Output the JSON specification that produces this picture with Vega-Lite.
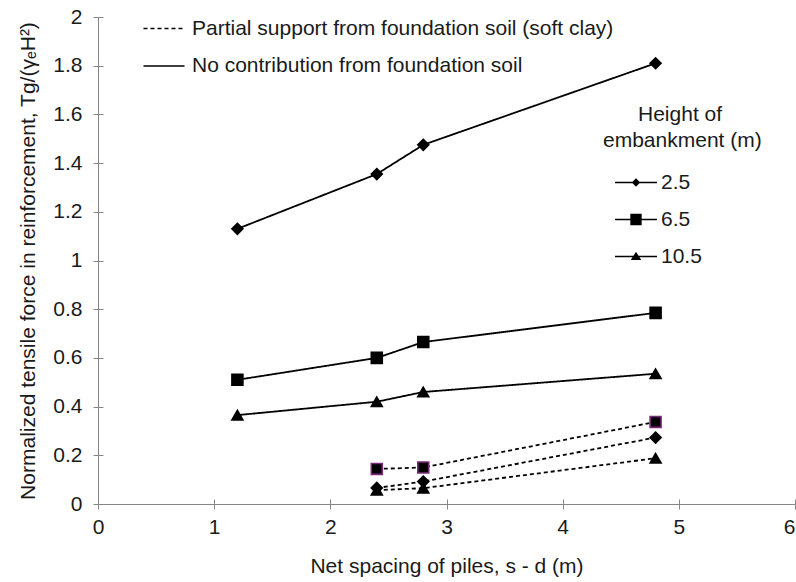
{
  "$schema": "https://vega.github.io/schema/vega-lite/v6.json",
  "width": 697,
  "height": 487,
  "autosize": "none",
  "padding": {"left": 98, "top": 17, "right": 1, "bottom": 78},
  "config": {
    "font": "Liberation Sans",
    "view": {"stroke": null},
    "axis": {
      "grid": false,
      "domainColor": "#868686",
      "tickColor": "#868686",
      "labelColor": "#1a1a1a",
      "titleColor": "#1a1a1a",
      "labelFontSize": 21,
      "titleFontSize": 21,
      "titleFontWeight": "normal",
      "labelFlush": false,
      "labelOverlap": false
    },
    "legend": {"padding": 0, "labelColor": "#1a1a1a", "titleColor": "#1a1a1a", "labelLimit": 0, "titleLimit": 0}
  },
  "data": {
    "values": [
      {"support": "No contribution from foundation soil", "H": 2.5, "s": 1.2, "T": 1.13},
      {"support": "No contribution from foundation soil", "H": 2.5, "s": 2.4, "T": 1.355},
      {"support": "No contribution from foundation soil", "H": 2.5, "s": 2.8, "T": 1.475},
      {"support": "No contribution from foundation soil", "H": 2.5, "s": 4.8, "T": 1.81},
      {"support": "No contribution from foundation soil", "H": 6.5, "s": 1.2, "T": 0.51},
      {"support": "No contribution from foundation soil", "H": 6.5, "s": 2.4, "T": 0.6},
      {"support": "No contribution from foundation soil", "H": 6.5, "s": 2.8, "T": 0.665},
      {"support": "No contribution from foundation soil", "H": 6.5, "s": 4.8, "T": 0.785},
      {"support": "No contribution from foundation soil", "H": 10.5, "s": 1.2, "T": 0.365},
      {"support": "No contribution from foundation soil", "H": 10.5, "s": 2.4, "T": 0.42},
      {"support": "No contribution from foundation soil", "H": 10.5, "s": 2.8, "T": 0.46},
      {"support": "No contribution from foundation soil", "H": 10.5, "s": 4.8, "T": 0.535},
      {"support": "Partial support from foundation soil (soft clay)", "H": 2.5, "s": 2.4, "T": 0.066},
      {"support": "Partial support from foundation soil (soft clay)", "H": 2.5, "s": 2.8, "T": 0.092},
      {"support": "Partial support from foundation soil (soft clay)", "H": 2.5, "s": 4.8, "T": 0.273},
      {"support": "Partial support from foundation soil (soft clay)", "H": 6.5, "s": 2.4, "T": 0.144},
      {"support": "Partial support from foundation soil (soft clay)", "H": 6.5, "s": 2.8, "T": 0.15},
      {"support": "Partial support from foundation soil (soft clay)", "H": 6.5, "s": 4.8, "T": 0.337},
      {"support": "Partial support from foundation soil (soft clay)", "H": 10.5, "s": 2.4, "T": 0.057},
      {"support": "Partial support from foundation soil (soft clay)", "H": 10.5, "s": 2.8, "T": 0.065},
      {"support": "Partial support from foundation soil (soft clay)", "H": 10.5, "s": 4.8, "T": 0.188}
    ]
  },
  "layer": [
    {
      "mark": {"type": "line", "color": "black", "strokeWidth": 1.8},
      "encoding": {
        "x": {
          "field": "s", "type": "quantitative",
          "scale": {"domain": [0, 6], "nice": false, "zero": false},
          "axis": {
            "orient": "bottom",
            "values": [0, 1, 2, 3, 4, 5, 6],
            "tickSize": 5,
            "labelPadding": 7,
            "labelAlign": {"condition": {"test": "datum.value === 6", "value": "right"}, "value": "center"},
            "title": "Net spacing of piles, s - d (m)",
            "titlePadding": 18
          }
        },
        "y": {
          "field": "T", "type": "quantitative",
          "scale": {"domain": [0, 2], "nice": false},
          "axis": {
            "orient": "left",
            "values": [0, 0.2, 0.4, 0.6, 0.8, 1, 1.2, 1.4, 1.6, 1.8, 2],
            "format": "~g",
            "tickSize": 5,
            "labelPadding": 11,
            "title": "Normalized  tensile force in reinforcement, Tg/(γₑH²)",
            "titlePadding": 14
          }
        },
        "detail": {"field": "H", "type": "nominal"},
        "strokeDash": {
          "field": "support", "type": "nominal",
          "scale": {
            "domain": ["Partial support from foundation soil (soft clay)", "No contribution from foundation soil"],
            "range": [[4, 3], [1, 0]]
          },
          "legend": {
            "orient": "none",
            "legendX": 44.5,
            "legendY": 0.5,
            "title": null,
            "symbolType": "stroke",
            "symbolSize": 1681,
            "symbolStrokeColor": "black",
            "symbolStrokeWidth": 1.3,
            "labelFontSize": 21,
            "labelOffset": 6.5,
            "clipHeight": 22,
            "rowPadding": 15.5
          }
        }
      }
    },
    {
      "mark": {"type": "point", "filled": true, "fill": "black", "size": 120, "opacity": 1, "strokeWidth": 1.6},
      "encoding": {
        "x": {"field": "s", "type": "quantitative", "axis": null},
        "y": {"field": "T", "type": "quantitative", "axis": null},
        "shape": {
          "field": "H", "type": "nominal",
          "scale": {"domain": [2.5, 6.5, 10.5], "range": ["diamond", "square", "triangle-up"]},
          "legend": null
        },
        "stroke": {
          "condition": {"test": "datum.support === 'Partial support from foundation soil (soft clay)' && datum.H === 6.5", "value": "#7b2a7b"},
          "value": "black"
        }
      }
    },
    {
      "mark": {"type": "point", "filled": true, "fill": "black", "opacity": 0},
      "encoding": {
        "x": {
          "field": "s", "type": "quantitative",
          "axis": {"orient": "bottom", "values": [0, 1, 2, 3, 4, 5, 6], "tickSize": -5, "domain": false, "labels": false, "title": null}
        },
        "y": {
          "field": "T", "type": "quantitative",
          "axis": {"orient": "left", "values": [0, 0.2, 0.4, 0.6, 0.8, 1, 1.2, 1.4, 1.6, 1.8, 2], "tickSize": -5, "domain": false, "labels": false, "title": null}
        },
        "shape": {
          "field": "H", "type": "nominal",
          "scale": {
            "domain": [2.5, 6.5, 10.5],
            "range": [
              "M-1,-0.04L1,-0.04L1,0.04L-1,0.04Z M0,-0.2L0.2,0L0,0.2L-0.2,0Z",
              "M-1,-0.04L1,-0.04L1,0.04L-1,0.04Z M-0.27,-0.27L0.27,-0.27L0.27,0.27L-0.27,0.27Z",
              "M-1,-0.04L1,-0.04L1,0.04L-1,0.04Z M0,-0.23L0.25,0.17L-0.25,0.17Z"
            ]
          },
          "legend": {
            "orient": "none",
            "legendX": 505,
            "legendY": 86.5,
            "title": ["\u200b\u00a0\u00a0\u00a0\u00a0\u00a0\u00a0Height of", "embankment (m)"],
            "titleFontSize": 21,
            "titleFontWeight": "normal",
            "titleLineHeight": 26,
            "titleAnchor": "start",
            "titleAlign": "left",
            "titlePadding": 21,
            "symbolSize": 1764,
            "symbolOpacity": 1,
            "symbolFillColor": "black",
            "symbolStrokeWidth": 0,
            "symbolOffset": 12,
            "labelFontSize": 21,
            "labelOffset": 4,
            "clipHeight": 22,
            "rowPadding": 15
          }
        }
      }
    }
  ],
  "resolve": {
    "scale": {"shape": "independent"},
    "axis": {"x": "independent", "y": "independent"}
  }
}
